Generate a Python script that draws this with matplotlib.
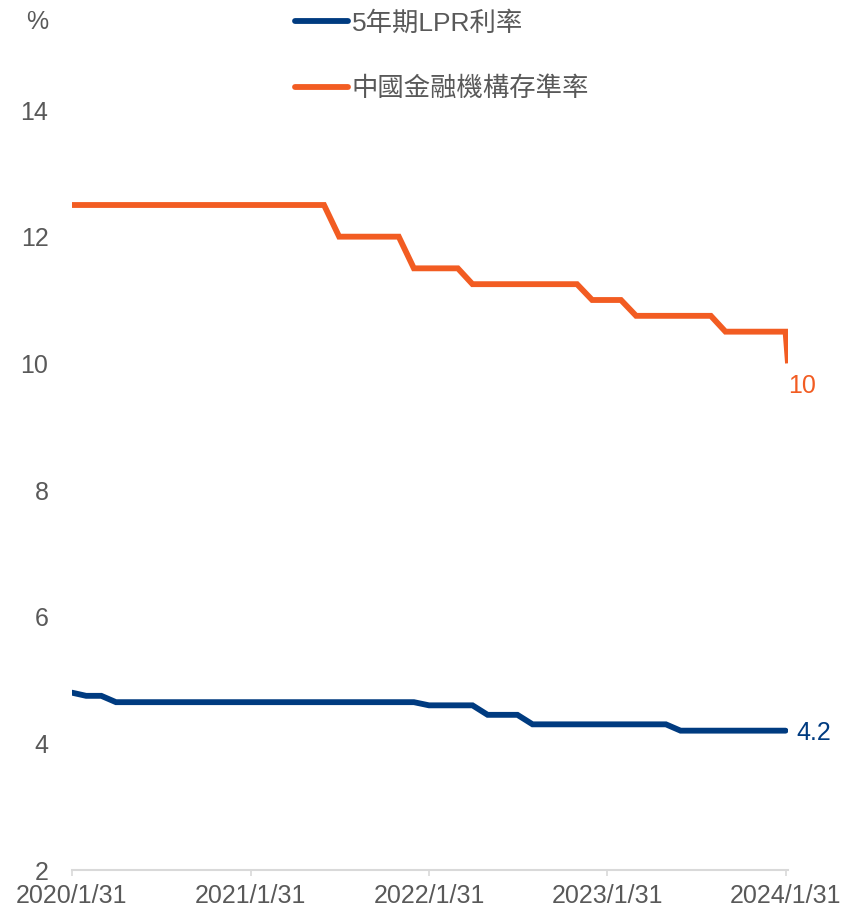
import matplotlib
matplotlib.use("Agg")
import matplotlib.pyplot as plt
import pandas as pd

plt.rcParams['font.family'] = ['Liberation Sans', 'Noto Sans CJK TC', 'DejaVu Sans']

# Month-end dates 2020/1/31 .. 2024/1/31
months = pd.date_range('2020-01-31', '2024-01-31', freq='ME')

lpr_label = '5年期LPR利率'
rrr_label = '中國金融機構存準率'

# 5-year LPR (%), monthly
lpr_values = [
    4.80, 4.75, 4.75, 4.65, 4.65, 4.65, 4.65, 4.65, 4.65, 4.65, 4.65, 4.65,   # 2020
    4.65, 4.65, 4.65, 4.65, 4.65, 4.65, 4.65, 4.65, 4.65, 4.65, 4.65, 4.65,   # 2021
    4.60, 4.60, 4.60, 4.60, 4.45, 4.45, 4.45, 4.30, 4.30, 4.30, 4.30, 4.30,   # 2022
    4.30, 4.30, 4.30, 4.30, 4.30, 4.20, 4.20, 4.20, 4.20, 4.20, 4.20, 4.20,   # 2023
    4.20,                                                                      # 2024/1
]

# Reserve requirement ratio (%), monthly + final point 2024/2/5
rrr_values = [
    12.50, 12.50, 12.50, 12.50, 12.50, 12.50, 12.50, 12.50, 12.50, 12.50, 12.50, 12.50,  # 2020
    12.50, 12.50, 12.50, 12.50, 12.50, 12.50, 12.00, 12.00, 12.00, 12.00, 12.00, 11.50,  # 2021
    11.50, 11.50, 11.50, 11.25, 11.25, 11.25, 11.25, 11.25, 11.25, 11.25, 11.25, 11.00,  # 2022
    11.00, 11.00, 10.75, 10.75, 10.75, 10.75, 10.75, 10.75, 10.50, 10.50, 10.50, 10.50,  # 2023
    10.50, 10.00,                                                                        # 2024/1, 2024/2/5
]
rrr_dates = list(months) + [pd.Timestamp('2024-02-05')]

tick_dates = pd.to_datetime(['2020-01-31', '2021-01-31', '2022-01-31', '2023-01-31', '2024-01-31'])
tick_labels = ['2020/1/31', '2021/1/31', '2022/1/31', '2023/1/31', '2024/1/31']
y_ticks = [2, 4, 6, 8, 10, 12, 14]

blue = '#003B80'
orange = '#F25C22'
gray = '#595959'

W, H = 846, 913
fig = plt.figure(figsize=(W / 100, H / 100), dpi=100)
left, right, top, bottom = 72, 788, 110, 870
ax = fig.add_axes([left / W, 1 - bottom / H, (right - left) / W, (bottom - top) / H])

l1, = ax.plot(months, lpr_values, color=blue, lw=4.2, solid_capstyle='round', solid_joinstyle='miter', label=lpr_label)
l2, = ax.plot(rrr_dates, rrr_values, color=orange, lw=4.2, solid_capstyle='butt', solid_joinstyle='miter', label=rrr_label)

ax.set_xlim(pd.Timestamp('2020-01-31'), pd.Timestamp('2024-02-05'))
ax.set_ylim(2, 14)
ax.set_yticks(y_ticks)
ax.set_yticklabels([str(v) for v in y_ticks])
ax.set_xticks(tick_dates)
ax.set_xticklabels(tick_labels)

for s in ['left', 'top', 'right']:
    ax.spines[s].set_visible(False)
ax.spines['bottom'].set_color('#D9D9D9')
ax.spines['bottom'].set_linewidth(1.5)

ax.tick_params(axis='y', length=0, pad=17, labelsize=18, labelcolor=gray)
ax.tick_params(axis='x', length=4, width=1.2, color='#D9D9D9', pad=6, labelsize=18, labelcolor=gray)

# end labels
ax.annotate('10', xy=(rrr_dates[-1], rrr_values[-1]), xytext=(0, -8), textcoords='offset points',
            ha='left', va='top', fontsize=18, color=orange)
ax.annotate('4.2', xy=(months[-1], lpr_values[-1]), xytext=(8, -2), textcoords='offset points',
            ha='left', va='center', fontsize=18, color=blue)

fig.text(37 / W, 1 - 22 / H, '%', ha='center', va='center', fontsize=18, color=gray)

leg = fig.legend(handles=[l1, l2], labels=[lpr_label, rrr_label], loc='upper left',
                 bbox_to_anchor=(295 / W, 1 - 11 / H), frameon=False, fontsize=19,
                 handlelength=2.0, handletextpad=0.15, labelspacing=1.55,
                 borderpad=0, borderaxespad=0)
for t in leg.get_texts():
    t.set_color(gray)
for h in leg.legend_handles:
    h.set_solid_capstyle('round')

fig.savefig('out.png', dpi=100)
